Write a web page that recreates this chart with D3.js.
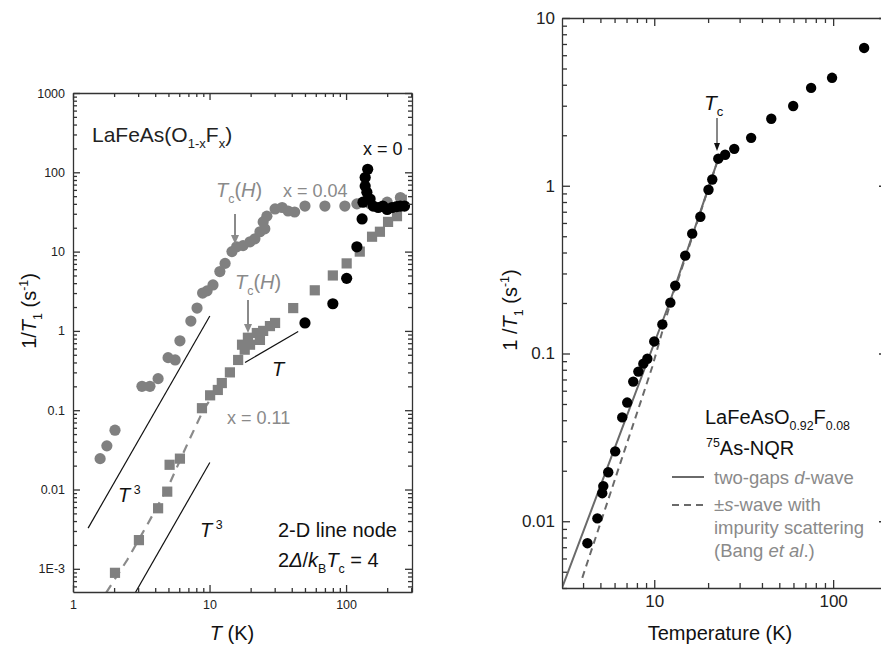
<!DOCTYPE html>
<html>
<head>
<meta charset="utf-8">
<script src="https://cdnjs.cloudflare.com/ajax/libs/d3/7.8.5/d3.min.js"></script>
<style>
body{margin:0;background:#fff;}
text{font-family:"Liberation Sans",Arial,sans-serif;}
.axis path,.axis line{stroke:#333;stroke-width:1.3;}
.axis text{fill:#222;}
</style>
</head>
<body>
<svg id="chart" width="881" height="647"></svg>
<script>
// ---- left panel data: LaFeAs(O1-xFx), 1/T1 vs T ----
var x004T=[1.58,1.77,2.03,3.2,3.66,4.2,4.97,5.6,6.07,7.3,8.1,8.9,9.6,10.6,11.9,13.0,14.6,15.8,17.6,19.8,21.5,23.4,24.7,25.4,26.3,30.2,34,37.6,42,50,70,98,120,150,200,250];
var x004R=[0.0245,0.0355,0.056,0.2,0.2,0.25,0.46,0.43,0.75,1.33,1.94,3.0,3.2,3.8,5.6,7.1,10,11.5,11.9,13.3,14.5,17.8,23.7,19.4,28,34.5,36,32.5,31.6,37.5,37.5,37.5,40,40,42,48];
var x0T=[50,80,101,120,131,133,138,138,142,144,150,158,172,186,200,217,235,250,268];
var x0R=[1.26,2.2,4.6,11.5,25.8,42,67,86,56,109,46,37.5,36,37.5,34,36,37,37.5,37.5];
var x011T=[2.03,3.04,4.2,4.9,5.1,6.07,8.8,10.1,11.5,12.3,14.1,16.2,17.3,18.1,19.1,19.8,22.2,23.4,24.7,27.7,30.2,41,59,80,101,126,155,177,203,236,256];
var x011R=[0.00089,0.0023,0.0058,0.0094,0.0205,0.0245,0.106,0.154,0.18,0.22,0.3,0.43,0.67,0.58,0.82,0.67,0.94,0.77,1.0,1.15,1.26,1.94,3.25,5.0,7.1,10,15.4,17.8,23.7,28,45];
// 2-D line node calculation (dashed)
var nodeT=[1.75,2.5,3.5,5,7,9,11];
var nodeR=[0.0005,0.0013,0.0036,0.011,0.04,0.1,0.17];
// guide lines [T, 1/T1]
var guideT3a=[[1.29,0.00326],[10.05,1.54]];
var guideT3b=[[2.8,0.00047],[10.05,0.0219]];
var guideT=[[18.2,0.4],[44.6,0.98]];
var yTicksL=[0.001,0.01,0.1,1,10,100,1000];
var yLabelsL=["1E-3","0.01","0.1","1","10","100","1000"];
var xTicksL=[1,10,100];

// ---- right panel data: LaFeAsO0.92F0.08, 75As-NQR ----
var nqrT=[4.23,4.81,5.12,5.19,5.53,6.05,6.62,7.06,7.63,8.15,8.69,9.15,10.0,11.1,12.3,13.1,14.9,16.3,18.1,20.1,21.1,22.8,24.9,28.0,34.8,45.1,59.8,75.3,98.6,149];
var nqrR=[0.0074,0.0104,0.0147,0.0162,0.0196,0.0261,0.0416,0.051,0.068,0.078,0.087,0.093,0.118,0.149,0.201,0.254,0.383,0.518,0.653,0.946,1.09,1.45,1.53,1.66,1.93,2.51,2.99,3.83,4.4,6.63];
var dwaveT=[3.05,7,12.3,22.8];
var dwaveR=[0.004,0.042,0.207,1.45];
var swaveT=[3.96,9.74,12.3,22.8];
var swaveR=[0.0046,0.083,0.2,1.45];
var yTicksR=[0.01,0.1,1,10];
var yLabelsR=["0.01","0.1","1","10"];
var xTicksR=[10,100];

var svg=d3.select("#chart");
var gray="#808080", tgray="#8a8a8a";

function minors(lo,hi){
  var m=[];
  for (var d=Math.floor(Math.log10(lo));d<=Math.ceil(Math.log10(hi));d++){
    for (var k=2;k<10;k++){var v=k*Math.pow(10,d); if(v>=lo&&v<=hi) m.push(v);}
  }
  return m;
}

// rich text with italic / sub / sup parts
function rich(g,x,y,parts,size,fill,anchor){
  var t=g.append("text").attr("x",x).attr("y",y).attr("font-size",size)
    .attr("fill",fill).attr("text-anchor",anchor||"start");
  var off=0;
  parts.forEach(function(p){
    var k=p[1]||"", want=0, fs=size;
    if (k.indexOf("b")>-1){want=size*0.3;fs=size*0.62;}
    if (k.indexOf("p")>-1){want=-size*0.42;fs=size*0.62;}
    var s=t.append("tspan").attr("dy",want-off).attr("font-size",fs).text(p[0]);
    if (k.indexOf("i")>-1) s.attr("font-style","italic");
    off=want;
  });
  return t;
}

function frame(g,x,y,xMaj,xLab,yMaj,yLab,big,small,fs,pad){
  var x0=x.range()[0],x1=x.range()[1],y0=y.range()[0],y1=y.range()[1];
  var xm=minors(x.domain()[0],x.domain()[1]), ym=minors(y.domain()[0],y.domain()[1]);
  // bottom
  g.append("g").attr("class","axis").attr("transform","translate(0,"+y0+")")
    .call(d3.axisBottom(x).tickValues(xMaj).tickFormat(function(d,i){return xLab[i];})
      .tickSizeInner(-big).tickSizeOuter(0).tickPadding(pad)).attr("font-size",fs);
  g.append("g").attr("class","axis").attr("transform","translate(0,"+y0+")")
    .call(d3.axisBottom(x).tickValues(xm).tickFormat("").tickSizeInner(-small).tickSizeOuter(0))
    .select(".domain").remove();
  // top
  g.append("g").attr("class","axis").attr("transform","translate(0,"+y1+")")
    .call(d3.axisTop(x).tickValues(xMaj).tickFormat("").tickSizeInner(-big).tickSizeOuter(0));
  g.append("g").attr("class","axis").attr("transform","translate(0,"+y1+")")
    .call(d3.axisTop(x).tickValues(xm).tickFormat("").tickSizeInner(-small).tickSizeOuter(0))
    .select(".domain").remove();
  // left
  g.append("g").attr("class","axis").attr("transform","translate("+x0+",0)")
    .call(d3.axisLeft(y).tickValues(yMaj).tickFormat(function(d,i){return yLab[i];})
      .tickSizeInner(-big).tickSizeOuter(0).tickPadding(pad)).attr("font-size",fs);
  g.append("g").attr("class","axis").attr("transform","translate("+x0+",0)")
    .call(d3.axisLeft(y).tickValues(ym).tickFormat("").tickSizeInner(-small).tickSizeOuter(0))
    .select(".domain").remove();
  // right
  g.append("g").attr("class","axis").attr("transform","translate("+x1+",0)")
    .call(d3.axisRight(y).tickValues(yMaj).tickFormat("").tickSizeInner(-big).tickSizeOuter(0));
  g.append("g").attr("class","axis").attr("transform","translate("+x1+",0)")
    .call(d3.axisRight(y).tickValues(ym).tickFormat("").tickSizeInner(-small).tickSizeOuter(0))
    .select(".domain").remove();
  g.selectAll(".axis text").attr("font-family","'Liberation Sans',Arial,sans-serif");
}

function arrow(g,x,y0,y1,col,w,hw,hl){
  g.append("line").attr("x1",x).attr("x2",x).attr("y1",y0).attr("y2",y1-hl+1)
    .attr("stroke",col).attr("stroke-width",w);
  g.append("path").attr("d","M"+(x-hw)+","+(y1-hl)+"L"+x+","+y1+"L"+(x+hw)+","+(y1-hl)+"Z")
    .attr("fill",col);
}

// ================= LEFT PANEL =================
var xL=d3.scaleLog().domain([1,304]).range([73,412]);
var yL=d3.scaleLog().domain([5.1e-4,1000]).range([592,93]);
var gL=svg.append("g");
svg.append("clipPath").attr("id","clipL").append("rect")
  .attr("x",73).attr("y",93).attr("width",339).attr("height",499);
var pL=gL.append("g").attr("clip-path","url(#clipL)");
var lineL=d3.line().x(function(d){return xL(d[0]);}).y(function(d){return yL(d[1]);});

pL.append("path").attr("d",lineL(d3.zip(nodeT,nodeR))).attr("fill","none")
  .attr("stroke","#8a8a8a").attr("stroke-width",2.2).attr("stroke-dasharray","9,7");
[guideT3a,guideT3b,guideT].forEach(function(l){
  pL.append("path").attr("d",lineL(l)).attr("fill","none").attr("stroke","#111").attr("stroke-width",1.2);
});

pL.selectAll(".c004").data(d3.zip(x004T,x004R)).enter().append("circle")
  .attr("cx",function(d){return xL(d[0]);}).attr("cy",function(d){return yL(d[1]);})
  .attr("r",5.6).attr("fill",gray);
pL.selectAll(".s011").data(d3.zip(x011T,x011R)).enter().append("rect")
  .attr("x",function(d){return xL(d[0])-5.1;}).attr("y",function(d){return yL(d[1])-5.1;})
  .attr("width",10.2).attr("height",10.2).attr("fill",gray);
pL.selectAll(".c0").data(d3.zip(x0T,x0R)).enter().append("circle")
  .attr("cx",function(d){return xL(d[0]);}).attr("cy",function(d){return yL(d[1]);})
  .attr("r",5.6).attr("fill","#000");

frame(gL,xL,yL,xTicksL,["1","10","100"],yTicksL,yLabelsL,7,4,12.5,8);

rich(gL,92,142,[["LaFeAs(O"],["1-x","b"],["F"],["x","b"],[")"]],21,"#222");
rich(gL,363,155,[["x = 0"]],18,"#111");
rich(gL,216,197,[["T","i"],["c","b"],["("],["H","i"],[")"]],20,tgray);
rich(gL,283,197,[["x = 0.04"]],18,tgray);
arrow(gL,235,214,244,tgray,2,4,9);
rich(gL,235,289,[["T","i"],["c","b"],["("],["H","i"],[")"]],20,tgray);
arrow(gL,248,300,333,tgray,2,4,9);
rich(gL,272,376,[["T","i"]],20,"#111");
rich(gL,227,424,[["x = 0.11"]],18,tgray);
rich(gL,118,502,[["T","i"],[" 3","p"]],20,"#111");
rich(gL,200,537,[["T","i"],[" 3","p"]],20,"#111");
rich(gL,278,537,[["2-D line node"]],20,"#111");
rich(gL,278,567,[["2"],["\u0394","i"],["/"],["k","i"],["B","b"],["T","i"],["c","b"],[" = 4"]],20,"#111");

var ylab=gL.append("g").attr("transform","translate(36,311) rotate(-90)");
rich(ylab,0,0,[["1/"],["T","i"],["1","b"],[" (s"],["-1","p"],[")"]],20,"#111","middle");
rich(gL,232,640,[["T","i"],[" (K)"]],20,"#111","middle");

// ================= RIGHT PANEL =================
var xR=d3.scaleLog().domain([3.05,200]).range([562,887]);
var yR=d3.scaleLog().domain([0.004,10]).range([588,18]);
var gR=svg.append("g");
svg.append("clipPath").attr("id","clipR").append("rect")
  .attr("x",562).attr("y",18).attr("width",325).attr("height",570);
var pR=gR.append("g").attr("clip-path","url(#clipR)");
var lineR=d3.line().x(function(d){return xR(d[0]);}).y(function(d){return yR(d[1]);});

pR.append("path").attr("d",lineR(d3.zip(dwaveT,dwaveR))).attr("fill","none")
  .attr("stroke","#6a6a6a").attr("stroke-width",2);
pR.append("path").attr("d",lineR(d3.zip(swaveT,swaveR))).attr("fill","none")
  .attr("stroke","#6a6a6a").attr("stroke-width",2).attr("stroke-dasharray","7,5");
pR.selectAll(".nqr").data(d3.zip(nqrT,nqrR)).enter().append("circle")
  .attr("cx",function(d){return xR(d[0]);}).attr("cy",function(d){return yR(d[1]);})
  .attr("r",5.2).attr("fill","#000");

frame(gR,xR,yR,xTicksR,["10","100"],yTicksR,yLabelsR,8,5,17,7);

rich(gR,704,110,[["T","i"],["c","b"]],21,"#111");
arrow(gR,717,118,151,"#111",1,3,8);

rich(gR,705,424,[["LaFeAsO"],["0.92","b"],["F"],["0.08","b"]],20,"#111");
rich(gR,706,455,[["75","p"],["As-NQR"]],20,"#111");
gR.append("line").attr("x1",672).attr("x2",704).attr("y1",477).attr("y2",477)
  .attr("stroke","#6a6a6a").attr("stroke-width",2);
gR.append("line").attr("x1",672).attr("x2",704).attr("y1",505).attr("y2",505)
  .attr("stroke","#6a6a6a").attr("stroke-width",2).attr("stroke-dasharray","7,5");
rich(gR,714,484,[["two-gaps "],["d","i"],["-wave"]],18.5,tgray);
rich(gR,714,511,[["\u00b1"],["s","i"],["-wave with"]],18.5,tgray);
rich(gR,714,534,[["impurity scattering"]],18.5,tgray);
rich(gR,714,557,[["(Bang "],["et al","i"],[".)"]],18.5,tgray);

var ylabR=gR.append("g").attr("transform","translate(517,310) rotate(-90)");
rich(ylabR,0,0,[["1 /"],["T","i"],["1","b"],[" (s"],["-1","p"],[")"]],20,"#111","middle");
rich(gR,720,640,[["Temperature (K)"]],20,"#111","middle");
</script>
</body>
</html>
